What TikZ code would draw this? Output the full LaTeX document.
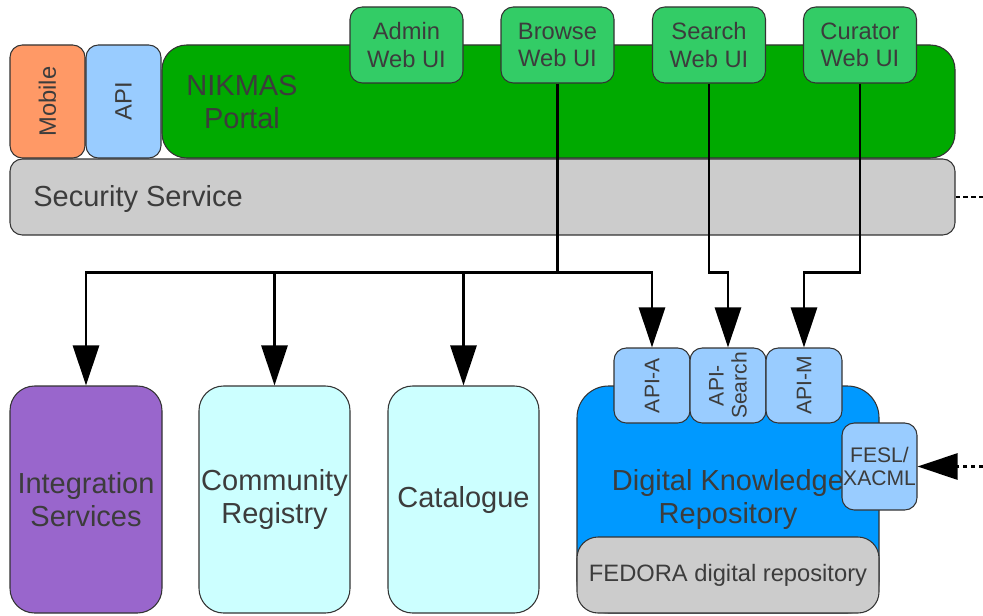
\documentclass[tikz,border=0pt]{standalone}
\usepackage{fontspec}
\setsansfont{Liberation Sans}
\usetikzlibrary{arrows.meta}
\definecolor{txtgray}{HTML}{3C3C3C}
\definecolor{edgegray}{HTML}{333333}
\definecolor{portalgreen}{HTML}{00AA00}
\definecolor{uigreen}{HTML}{33CC66}
\definecolor{mobileorange}{HTML}{FF9966}
\definecolor{apiblue}{HTML}{99CCFF}
\definecolor{secgray}{HTML}{CCCCCC}
\definecolor{integpurple}{HTML}{9966CC}
\definecolor{palecyan}{HTML}{CCFFFF}
\definecolor{dkrblue}{HTML}{0099FF}
\newcommand\setfs[2]{\fontsize{#1}{#2}\selectfont}
\begin{document}
\begin{tikzpicture}[x = 0.02cm, y = -0.02cm,
	box/.style = {draw = edgegray, line width = 0.6pt, rounded corners = #1, inner sep = 0pt, align = center, text = txtgray},
	box/.default = 7pt,
	txt/.style = {inner sep = 0pt, align = center, text = txtgray},
	sz/.style 2 args = {minimum width = #1*0.02cm, minimum height = #2*0.02cm},
	fbig/.style = {font = \sffamily\setfs{16.5}{18.8}},
	fsmall/.style = {font = \sffamily\setfs{13.5}{15.4}},
	ftiny/.style = {font = \sffamily\setfs{12}{13}},
	link/.style = {line width = 1.6pt},
	arr/.style = {link, -{Triangle[length = 0.8cm, width = 0.52cm]}},
	dots/.style = {link, dash pattern = on 2.5pt off 2pt}]
	\useasboundingbox (0, 0) rectangle (983, 615);
	\node[box = 14pt, fill = portalgreen, sz = {793}{113}] (portal) at (558.5, 101.5) {};
	\node[txt, fbig] (portaltxt) at (242, 102) {NIKMAS\\Portal};
	\node[box, fill = mobileorange, rotate = 90, sz = {113}{75}, fsmall] (mobile) at (47.5, 101.5) {Mobile};
	\node[box, fill = apiblue, rotate = 90, sz = {113}{75}, fsmall] (api) at (123.5, 101.5) {API};
	\foreach \nm/\txt/\xx in {admin/Admin/406.5, browse/Browse/557.5, search/Search/709, curator/Curator/860}
		\node[box, fill = uigreen, sz = {113}{76}, fsmall] (\nm) at (\xx, 45) {\txt\\Web UI};
	\node[box, fill = secgray, sz = {945}{76}] (sec) at (482.5, 197) {};
	\node[txt, fbig, anchor = west] (sectxt) at (33, 199) {Security Service};
	\node[box = 14pt, fill = integpurple, sz = {152}{227}, fbig] (integ) at (86, 499.5) {Integration\\Services};
	\node[box = 14pt, fill = palecyan, sz = {151}{227}, fbig] (comm) at (274.5, 499.5) {Community\\Registry};
	\node[box = 14pt, fill = palecyan, sz = {151}{227}, fbig] (cat) at (463.5, 499.5) {Catalogue};
	\node[box = 18pt, fill = dkrblue, sz = {302}{227}, fbig] (dkr) at (728, 499.5) {Digital Knowledge\\Repository};
	\node[box = 12pt, fill = secgray, sz = {302}{76}, fsmall] (fedora) at (728, 575) {FEDORA digital repository};
	\node[box, fill = apiblue, rotate = 90, sz = {75}{76}, ftiny] (apia) at (652, 385.5) {API-A};
	\node[box, fill = apiblue, rotate = 90, sz = {75}{76}, ftiny] (apis) at (728, 385.5) {API-\\Search};
	\node[box, fill = apiblue, rotate = 90, sz = {75}{76}, ftiny] (apim) at (804, 385.5) {API-M};
	\node[box, fill = apiblue, sz = {75}{87}, ftiny] (fesl) at (879.5, 466.5) {FESL/\\XACML};
	\coordinate (bus) at (557.5, 272.5);
	\coordinate (secout) at (983, 197);
	\coordinate (feslin) at (983, 466.5);
	\draw[link] (browse) -- (bus);
	\draw[arr] (bus) -| (integ);
	\draw[arr] (bus) -| (comm);
	\draw[arr] (bus) -| (cat);
	\draw[arr] (bus) -| (apia);
	\draw[arr] (search) -- (search |- bus) -| (apis);
	\draw[arr] (curator) -- (curator |- bus) -| (apim);
	\draw[dots] (sec) -- (secout);
	\draw[dots, -{Triangle[length = 0.8cm, width = 0.52cm]}] (feslin) -- (fesl);
\end{tikzpicture}
\end{document}
